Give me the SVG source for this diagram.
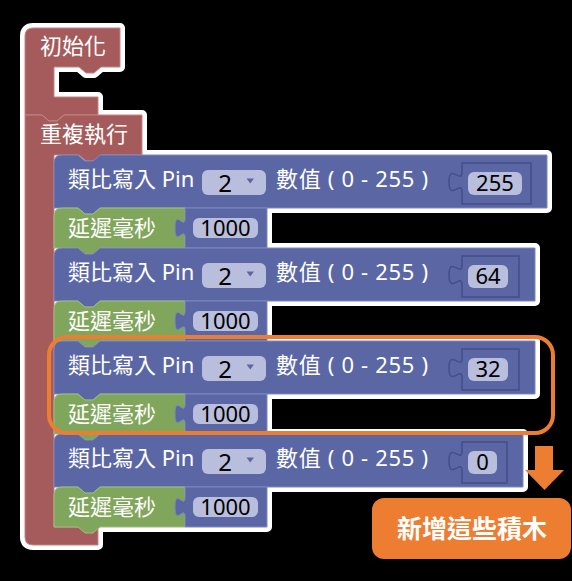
<svg xmlns="http://www.w3.org/2000/svg" xmlns:xlink="http://www.w3.org/1999/xlink" width="572" height="581" viewBox="0 0 572 581">
<style>
.halo{fill:#ffffff;stroke:#ffffff;stroke-width:10;stroke-linejoin:round}
.red{fill:#a55b5b;stroke:#c08585;stroke-width:1}
.blue{fill:#5b67a5;stroke:#7e88bd;stroke-width:1}
.green{fill:#80a65b;stroke:#9fbd82;stroke-width:1}
.sock{fill:#5b67a5;stroke:#454e86;stroke-width:1.5}
.field{fill:#b9bedc}
.lbl{font-family:"Noto Sans","Noto Sans CJK TC",sans-serif;font-size:22px;fill:#ffffff}
.val{font-family:"Noto Sans","Noto Sans CJK TC",sans-serif;font-size:22px;fill:#000000;text-anchor:middle}
.dd{font-family:"Noto Sans","Noto Sans CJK TC",sans-serif;font-size:24px;fill:#000000;text-anchor:middle}
.tri{fill:#5b67a5}
.orange{fill:none;stroke:#ed7d31;stroke-width:4}
.note{font-family:"Noto Sans CJK TC",sans-serif;font-size:25px;font-weight:bold;fill:#ffffff;text-anchor:middle}
</style>
<defs>
<path id="s-init" d="M25,36 Q25,28 33,28 H120 V67 H101 l-7,6 h-8 l-7,-6 H54 V97 H98 V115 H64 l-7,6 h-8 l-7,-6 H25 Z"/>
<path id="s-loop" d="M25,115 H42 l7,6 h8 l7,-6 H142 V155 H101 l-7,6 h-8 l-7,-6 H54 V527 H98 V545 H33 Q25,545 25,537 Z"/>
<path id="s-w1" d="M54,163 Q54,155 62,155 H78 l7,6 h8 l7,-6 H547 V208 H100 l-7,6 h-8 l-7,-6 H54 Z"/>
<path id="s-d1" d="M54,216 Q54,208 62,208 H78 l7,6 h8 l7,-6 H185 V248 H100 l-7,6 h-8 l-7,-6 H54 Z"/>
<path id="s-n1" d="M185,208 H267 V248 H185 V238 c0,-13 -10,10 -10,-10 s10,3 10,-10 Z"/>
<path id="s-w2" d="M54,256 Q54,248 62,248 H78 l7,6 h8 l7,-6 H535 V301 H100 l-7,6 h-8 l-7,-6 H54 Z"/>
<path id="s-d2" d="M54,309 Q54,301 62,301 H78 l7,6 h8 l7,-6 H185 V341 H100 l-7,6 h-8 l-7,-6 H54 Z"/>
<path id="s-n2" d="M185,301 H267 V341 H185 V331 c0,-13 -10,10 -10,-10 s10,3 10,-10 Z"/>
<path id="s-w3" d="M54,349 Q54,341 62,341 H78 l7,6 h8 l7,-6 H535 V394 H100 l-7,6 h-8 l-7,-6 H54 Z"/>
<path id="s-d3" d="M54,402 Q54,394 62,394 H78 l7,6 h8 l7,-6 H185 V434 H100 l-7,6 h-8 l-7,-6 H54 Z"/>
<path id="s-n3" d="M185,394 H267 V434 H185 V424 c0,-13 -10,10 -10,-10 s10,3 10,-10 Z"/>
<path id="s-w4" d="M54,442 Q54,434 62,434 H78 l7,6 h8 l7,-6 H523 V487 H100 l-7,6 h-8 l-7,-6 H54 Z"/>
<path id="s-d4" d="M54,495 Q54,487 62,487 H78 l7,6 h8 l7,-6 H185 V527 H100 l-7,6 h-8 l-7,-6 H54 Z"/>
<path id="s-n4" d="M185,487 H267 V527 H185 V517 c0,-13 -10,10 -10,-10 s10,3 10,-10 Z"/>
</defs>

<rect width="572" height="581" fill="#000000"/>

<g id="halo">
<use xlink:href="#s-init" class="halo"/>
<use xlink:href="#s-loop" class="halo"/>
<use xlink:href="#s-w1" class="halo"/>
<use xlink:href="#s-d1" class="halo"/>
<use xlink:href="#s-n1" class="halo"/>
<use xlink:href="#s-w2" class="halo"/>
<use xlink:href="#s-d2" class="halo"/>
<use xlink:href="#s-n2" class="halo"/>
<use xlink:href="#s-w3" class="halo"/>
<use xlink:href="#s-d3" class="halo"/>
<use xlink:href="#s-n3" class="halo"/>
<use xlink:href="#s-w4" class="halo"/>
<use xlink:href="#s-d4" class="halo"/>
<use xlink:href="#s-n4" class="halo"/>
</g>

<g id="init">
<use xlink:href="#s-init" class="red"/>
<text class="lbl" x="40" y="54">初始化</text>
</g>

<g id="loop">
<use xlink:href="#s-loop" class="red"/>
<text class="lbl" x="40" y="142">重複執行</text>
</g>

<g id="write1">
<use xlink:href="#s-w1" class="blue"/>
<text class="lbl" x="68" y="187">類比寫入 Pin</text>
<rect class="field" x="202" y="170" width="64" height="25" rx="6"/>
<text class="dd" x="225" y="192">2</text>
<polygon class="tri" points="246.5,178.5 254,178.5 250.25,183.5"/>
<text class="lbl" x="276" y="187" textLength="152" lengthAdjust="spacing">數值 ( 0 - 255 )</text>
<path class="sock" d="M462,163 H531 V204 H462 V192 c0,-13 -13,10 -13,-10 s13,3 13,-10 Z"/>
<rect class="field" x="468" y="172" width="54" height="23" rx="6"/>
<text class="val" x="495" y="191">255</text>
</g>

<g id="delay1">
<use xlink:href="#s-d1" class="green"/>
<text class="lbl" x="68" y="236">延遲毫秒</text>
<use xlink:href="#s-n1" class="blue"/>
<rect class="field" x="193" y="218" width="65" height="20" rx="6"/>
<text class="val" x="225.5" y="236">1000</text>
</g>

<g id="write2">
<use xlink:href="#s-w2" class="blue"/>
<text class="lbl" x="68" y="280">類比寫入 Pin</text>
<rect class="field" x="202" y="263" width="64" height="25" rx="6"/>
<text class="dd" x="225" y="285">2</text>
<polygon class="tri" points="246.5,271.5 254,271.5 250.25,276.5"/>
<text class="lbl" x="276" y="280" textLength="152" lengthAdjust="spacing">數值 ( 0 - 255 )</text>
<path class="sock" d="M462,256 H519 V297 H462 V285 c0,-13 -13,10 -13,-10 s13,3 13,-10 Z"/>
<rect class="field" x="468" y="265" width="40" height="23" rx="6"/>
<text class="val" x="488" y="284">64</text>
</g>

<g id="delay2">
<use xlink:href="#s-d2" class="green"/>
<text class="lbl" x="68" y="329">延遲毫秒</text>
<use xlink:href="#s-n2" class="blue"/>
<rect class="field" x="193" y="311" width="65" height="20" rx="6"/>
<text class="val" x="225.5" y="329">1000</text>
</g>

<g id="write3">
<use xlink:href="#s-w3" class="blue"/>
<text class="lbl" x="68" y="373">類比寫入 Pin</text>
<rect class="field" x="202" y="356" width="64" height="25" rx="6"/>
<text class="dd" x="225" y="378">2</text>
<polygon class="tri" points="246.5,364.5 254,364.5 250.25,369.5"/>
<text class="lbl" x="276" y="373" textLength="152" lengthAdjust="spacing">數值 ( 0 - 255 )</text>
<path class="sock" d="M462,349 H519 V390 H462 V378 c0,-13 -13,10 -13,-10 s13,3 13,-10 Z"/>
<rect class="field" x="468" y="358" width="40" height="23" rx="6"/>
<text class="val" x="488" y="377">32</text>
</g>

<g id="delay3">
<use xlink:href="#s-d3" class="green"/>
<text class="lbl" x="68" y="422">延遲毫秒</text>
<use xlink:href="#s-n3" class="blue"/>
<rect class="field" x="193" y="404" width="65" height="20" rx="6"/>
<text class="val" x="225.5" y="422">1000</text>
</g>

<g id="write4">
<use xlink:href="#s-w4" class="blue"/>
<text class="lbl" x="68" y="466">類比寫入 Pin</text>
<rect class="field" x="202" y="449" width="64" height="25" rx="6"/>
<text class="dd" x="225" y="471">2</text>
<polygon class="tri" points="246.5,457.5 254,457.5 250.25,462.5"/>
<text class="lbl" x="276" y="466" textLength="152" lengthAdjust="spacing">數值 ( 0 - 255 )</text>
<path class="sock" d="M462,442 H507 V483 H462 V471 c0,-13 -13,10 -13,-10 s13,3 13,-10 Z"/>
<rect class="field" x="468" y="451" width="29" height="23" rx="6"/>
<text class="val" x="482.5" y="470">0</text>
</g>

<g id="delay4">
<use xlink:href="#s-d4" class="green"/>
<text class="lbl" x="68" y="515">延遲毫秒</text>
<use xlink:href="#s-n4" class="blue"/>
<rect class="field" x="193" y="497" width="65" height="20" rx="6"/>
<text class="val" x="225.5" y="515">1000</text>
</g>

<g id="highlight">
<rect class="orange" x="49" y="337" width="504" height="96" rx="18"/>
</g>

<g id="connectors">
<polygon fill="#ed7d31" points="535,446 553,446 553,470 564,470 544.5,490 525,470 535,470"/>
</g>

<g id="note">
<rect x="372" y="498" width="199" height="61" rx="12" fill="#ed7d31"/>
<text class="note" x="472" y="538">新增這些積木</text>
</g>
</svg>
